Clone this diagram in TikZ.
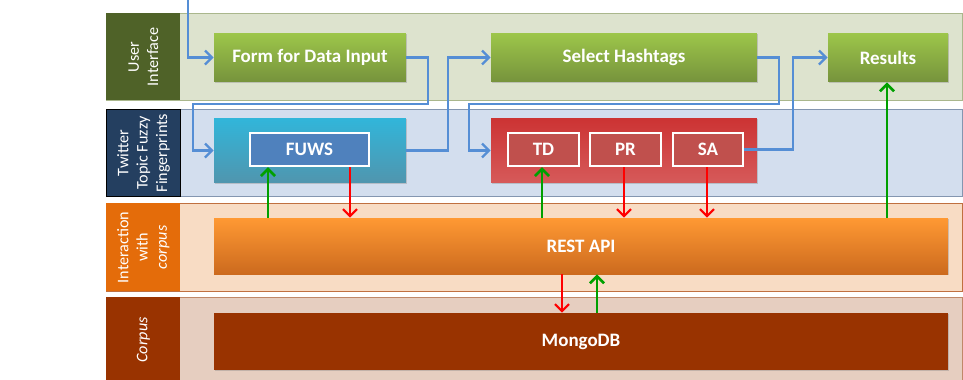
\documentclass[tikz,border=0pt]{standalone}
\usepackage{fontspec}
\setmainfont{Carlito}
\usetikzlibrary{positioning,shadows,arrows.meta}

\definecolor{uiBg}{HTML}{DDE3CE}
\definecolor{uiHead}{HTML}{4F6228}
\definecolor{uiLine}{HTML}{AAB78C}
\definecolor{twBg}{HTML}{D3DEEE}
\definecolor{twHead}{HTML}{243F60}
\definecolor{twLine}{HTML}{8496B0}
\definecolor{icBg}{HTML}{F8DCC4}
\definecolor{icHead}{HTML}{E46C0A}
\definecolor{icLine}{HTML}{C07040}
\definecolor{coBg}{HTML}{E6CEC0}
\definecolor{coHead}{HTML}{993300}
\definecolor{coLine}{HTML}{C08868}
\definecolor{flowBlue}{HTML}{558ED5}
\definecolor{okGreen}{HTML}{00A000}
\definecolor{greenTop}{HTML}{9DC64A}
\definecolor{greenBot}{HTML}{76933C}
\definecolor{cyanTop}{HTML}{31B6DA}
\definecolor{cyanBot}{HTML}{5095AE}
\definecolor{fuwsFill}{HTML}{4F81BD}
\definecolor{redTop}{HTML}{CC3333}
\definecolor{redBot}{HTML}{D65A5A}
\definecolor{toolFill}{HTML}{C0504D}
\definecolor{orangeTop}{HTML}{FF9933}
\definecolor{orangeBot}{HTML}{CC6A1E}

\begin{document}
\begin{tikzpicture}[x=0.02cm,y=-0.02cm,
  lane/.style={anchor=north west,minimum width=17.12cm,line width=0.6pt,inner sep=0pt},
  head/.style={anchor=north west,minimum width=1.48cm,inner sep=0pt},
  htext/.style={rotate=90,text=white,align=center,font=\fontsize{9.2}{11}\selectfont},
  box/.style={minimum height=0.98cm,inner sep=0pt,text=white,
    font=\bfseries\fontsize{10.8}{13}\selectfont,
    drop shadow={opacity=0.35,shadow xshift=0.6pt,shadow yshift=-0.8pt}},
  greenbox/.style={box,top color=greenTop,bottom color=greenBot},
  tool/.style={box,minimum height=0.66cm,draw=white,line width=1.4pt},
  flow/.style={draw=flowBlue,line width=1.3pt,-{Straight Barb[length=4pt,width=8pt]}},
  upflow/.style={draw=okGreen,line width=1.5pt,-{Straight Barb[length=4pt,width=8pt]}},
  downflow/.style={draw=red,line width=1.2pt,-{Straight Barb[length=4pt,width=8pt]}}]
\useasboundingbox (0,0) rectangle (963,379);

% lanes
\node[lane,minimum height=1.74cm,fill=uiBg,draw=uiLine] (laneui) at (106,13) {};
\node[lane,minimum height=1.74cm,fill=twBg,draw=twLine] (lanetw) at (106,109) {};
\node[lane,minimum height=1.76cm,fill=icBg,draw=icLine] (laneic) at (106,203) {};
\node[lane,minimum height=1.70cm,fill=coBg,draw=coLine] (laneco) at (106,297) {};

\node[head,minimum height=1.74cm,fill=uiHead] (hui) at (106,13) {};
\node[htext] at (hui.center) {User\\Interface};
\node[head,minimum height=1.74cm,fill=twHead,draw=black,line width=0.6pt] (htw) at (106,109) {};
\node[htext] at (htw.center) {Twitter\\Topic Fuzzy\\Fingerprints};
\node[head,minimum height=1.76cm,fill=icHead] (hic) at (106,203) {};
\node[htext] at (hic.center) {Interaction\\with\\\textit{corpus}};
\node[head,minimum height=1.70cm,fill=coHead] (hco) at (106,297) {};
\node[htext] at (hco.center) {\textit{Corpus}};

% user interface
\node[greenbox,minimum width=3.84cm] (form) at (310,57.5) {Form for Data Input};
\node[greenbox,minimum width=5.32cm] (hash) at (624,57.5) {Select Hashtags};
\node[greenbox,minimum width=2.4cm] (results) at (888,57.5) {Results};

% fingerprints
\node[box,minimum width=3.84cm,minimum height=1.3cm,top color=cyanTop,bottom color=cyanBot] (fuzzy) at (310,150.5) {};
\node[tool,minimum width=2.38cm,fill=fuwsFill] (fuws) at (309.5,149.5) {FUWS};
\node[box,minimum width=5.32cm,minimum height=1.3cm,top color=redTop,bottom color=redBot] (tools) at (624,150.5) {};
\node[tool,minimum width=1.42cm,fill=toolFill] (td) at (543.5,149.5) {TD};
\node[tool,minimum width=1.42cm,fill=toolFill] (pr) at (625.5,149.5) {PR};
\node[tool,minimum width=1.40cm,fill=toolFill] (sa) at (708,149.5) {SA};

% corpus
\node[box,minimum width=14.68cm,minimum height=1.12cm,top color=orangeTop,bottom color=orangeBot] (rest) at (581,246) {REST API};
\node[box,minimum width=14.68cm,minimum height=1.14cm,fill=coHead] (mongo) at (581,341.5) {MongoDB};

% flows
\coordinate (start) at (188,-2);
\draw[flow] (start) |- (form.west);
\draw[flow] (form.east) -- ++(22,0) |- (193,104) |- (fuzzy.west);
\draw[flow] (fuzzy.east) -- ++(42,0) |- (hash.west);
\draw[flow] (hash.east) -- ++(22,0) |- (469,104) |- (tools.west);
\draw[flow] (sa.east) -- ++(49,0) |- (results.west);

\draw[upflow] (rest.north -| 268,0) -- (fuws.south -| 268,0);
\draw[downflow] (fuws.south -| 350,0) -- (rest.north -| 350,0);
\draw[upflow] (rest.north -| 542,0) -- (td.south -| 542,0);
\draw[downflow] (pr.south -| 624,0) -- (rest.north -| 624,0);
\draw[downflow] (sa.south -| 707,0) -- (rest.north -| 707,0);
\draw[upflow] (rest.north -| 887,0) -- (results.south -| 887,0);
\draw[downflow] (rest.south -| 562,0) -- (mongo.north -| 562,0);
\draw[upflow] (mongo.north -| 597,0) -- (rest.south -| 597,0);
\end{tikzpicture}
\end{document}
